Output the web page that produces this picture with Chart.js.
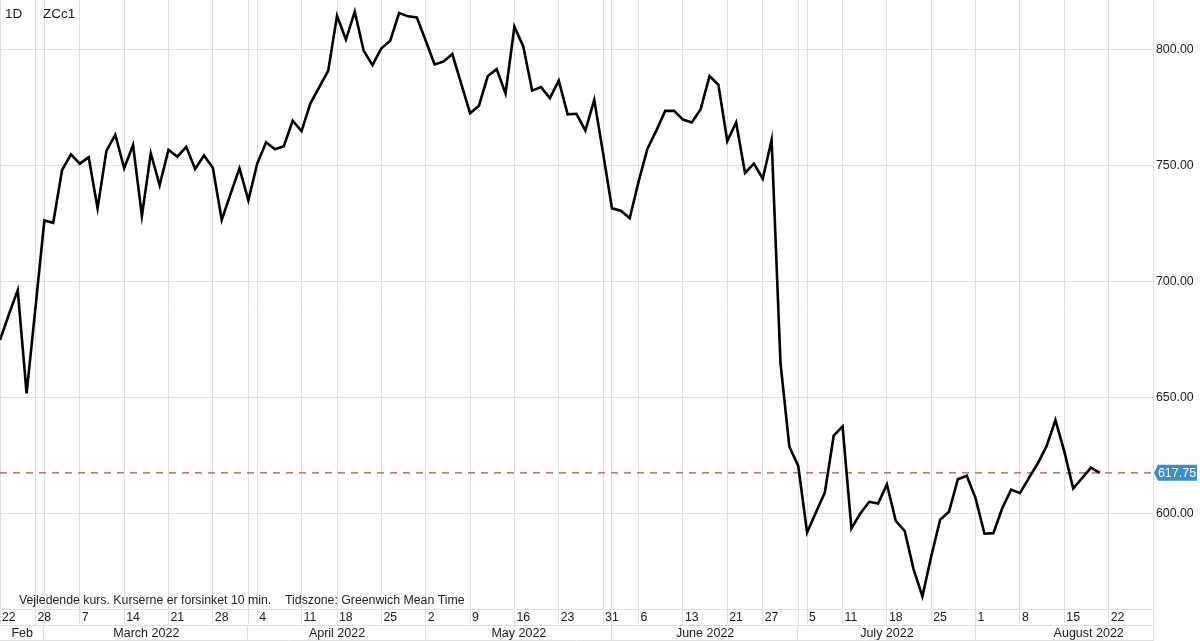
<!DOCTYPE html>
<html>
<head>
<meta charset="utf-8">
<title>ZCc1</title>
<script src="https://cdn.jsdelivr.net/npm/chart.js@4.4.0/dist/chart.umd.min.js"></script>
<style>
  html, body { margin: 0; padding: 0; background: #fff; }
  #wrap { width: 1200px; height: 641px; position: relative; }
</style>
</head>
<body>
<div id="wrap"><canvas id="priceChart"></canvas></div>
<script>
// daily closes, one per trading day from 22 Feb to 19 Aug 2022
var closes = [
  675, 686, 696.5, 652, 689, 726.5, 725.5, 748.25, 755, 751,
  753.75, 731.75, 756.5, 763.5, 749, 759, 728.5, 755.5, 741.75, 757,
  754, 758.25, 748.75, 754.5, 749.25, 726.75, 738, 749, 735.25, 751,
  760.25, 757.25, 758.5, 769.5, 765, 777, 784, 791, 814.75, 804.5,
  816.5, 799.75, 793.5, 800.75, 804, 816, 814.5, 814, 804, 793.75,
  795, 798.25, 785.5, 772.75, 776, 788.75, 791.75, 781.25, 810, 801.5,
  782.5, 784, 779.25, 786.75, 772.25, 772.5, 765.25, 778.5, 755.5, 731.75,
  730.75, 727.5, 743.25, 757.5, 765.25, 773.75, 773.75, 770, 768.75, 774.5,
  788.75, 785, 760.75, 768.75, 747, 751, 744.5, 761.25, 665, 629,
  620.75, 592, 600.75, 609.25, 633.75, 637.75, 593.75, 600.25, 605.25, 604.5,
  612.75, 597, 592.75, 576.25, 564.5, 581.75, 597.5, 601, 615, 616.5,
  606.75, 591.5, 591.75, 602.5, 610.5, 609, 615.5, 621.75, 629.25, 640.5,
  627, 611, 615.5, 620, 617.75
];
var lastPrice = 617.75;
var yTicks = [600, 650, 700, 750, 800];

// trading-day index of each weekly label, and the label text
var dayTickIdx = [0, 4, 9, 14, 19, 24, 29, 34, 38, 43, 48, 53, 58, 63, 68, 72, 77, 82, 86, 91, 95, 100, 105, 110, 115, 120, 125];
var dayTickLabels = ['22', '28', '7', '14', '21', '28', '4', '11', '18', '25', '2', '9', '16', '23', '31', '6', '13', '21', '27', '5', '11', '18', '25', '1', '8', '15', '22'];

// first trading day of each month (0 = left edge of the view)
var monthStartIdx = [0, 5, 28, 48, 69, 90, 110];
var monthLabels = ['Feb', 'March 2022', 'April 2022', 'May 2022', 'June 2022', 'July 2022', 'August 2022'];

var lastIdx = 130; // right edge of the view (29 Aug)
var gridIdx = dayTickIdx.concat(monthStartIdx.slice(1)).sort(function(a, b) { return a - b; });

var FONT = '"Liberation Sans", Arial, sans-serif';
var GRID = '#e0e0e0';

var decor = {
  id: 'decor',
  afterDraw: function(chart) {
    var ctx = chart.ctx;
    var xs = chart.scales.x, ys = chart.scales.y, area = chart.chartArea;
    var H = chart.height;
    ctx.save();

    // row separators under the plot
    ctx.strokeStyle = GRID;
    ctx.lineWidth = 1;
    ctx.beginPath();
    ctx.moveTo(0, area.bottom + 16.5); ctx.lineTo(area.right, area.bottom + 16.5);
    ctx.moveTo(0, H - 0.5); ctx.lineTo(area.right, H - 0.5);
    ctx.moveTo(area.right + 0.5, area.bottom); ctx.lineTo(area.right + 0.5, H);
    monthStartIdx.slice(1).forEach(function(idx) {
      var x = Math.round(xs.getPixelForValue(idx)) - 0.5;
      ctx.moveTo(x, area.bottom + 16); ctx.lineTo(x, H);
    });
    ctx.stroke();

    // day labels
    ctx.fillStyle = '#1a1a1a';
    ctx.font = '12.3px ' + FONT;
    ctx.textAlign = 'left';
    ctx.textBaseline = 'middle';
    dayTickIdx.forEach(function(idx, k) {
      ctx.fillText(dayTickLabels[k], xs.getPixelForValue(idx) + 2, area.bottom + 9);
    });

    // month labels, centred in their span
    ctx.font = '12.5px ' + FONT;
    ctx.textAlign = 'center';
    monthLabels.forEach(function(lbl, k) {
      var a = monthStartIdx[k];
      var b = k + 1 < monthStartIdx.length ? monthStartIdx[k + 1] : lastIdx + 5.5;
      var x = (xs.getPixelForValue(a) + xs.getPixelForValue(b)) / 2;
      ctx.fillText(lbl, x, area.bottom + 25);
    });

    // footer note
    ctx.font = '12.3px ' + FONT;
    ctx.textAlign = 'left';
    ctx.fillStyle = '#222';
    ctx.fillText('Vejledende kurs. Kurserne er forsinket 10 min.', 19, 601);
    ctx.fillText('Tidszone: Greenwich Mean Time', 285, 601);

    // top-left labels
    ctx.font = '13.5px ' + FONT;
    ctx.fillStyle = '#1a1a1a';
    ctx.fillText('1D', 5, 14);
    ctx.fillText('ZCc1', 43, 14);

    // last price tag
    var py = ys.getPixelForValue(lastPrice);
    ctx.fillStyle = '#3a8ed4';
    ctx.beginPath();
    ctx.moveTo(area.right + 1, py);
    ctx.lineTo(area.right + 5, py - 8);
    ctx.lineTo(1197, py - 8);
    ctx.lineTo(1197, py + 8);
    ctx.lineTo(area.right + 5, py + 8);
    ctx.closePath();
    ctx.fill();
    ctx.fillStyle = '#fff';
    ctx.font = '12.5px ' + FONT;
    ctx.textAlign = 'center';
    ctx.fillText(lastPrice.toFixed(2), 1177, py + 0.5);

    ctx.restore();
  }
};

Chart.defaults.font.family = FONT;

var ctx = document.getElementById('priceChart').getContext('2d');
var priceChart = new Chart(ctx, {
  type: 'line',
  data: {
    datasets: [{
      data: closes.map(function(v, i) { return { x: i, y: v }; }),
      borderColor: '#000',
      borderWidth: 2.6,
      pointRadius: 0,
      tension: 0,
      order: 1
    }, {
      data: [{ x: 0, y: lastPrice }, { x: lastIdx, y: lastPrice }],
      borderColor: '#bf4a47',
      borderWidth: 1.2,
      borderDash: [7, 6],
      pointRadius: 0,
      order: 2
    }]
  },
  options: {
    responsive: true,
    maintainAspectRatio: false,
    animation: false,
    layout: { padding: 0 },
    plugins: {
      legend: { display: false },
      tooltip: { enabled: false }
    },
    scales: {
      x: {
        type: 'linear',
        min: 0,
        max: lastIdx,
        afterBuildTicks: function(scale) {
          scale.ticks = gridIdx.map(function(v) { return { value: v }; });
        },
        afterFit: function(scale) {
          scale.height = 32;
          scale.paddingLeft = 0; scale.paddingRight = 0;
        },
        ticks: { display: false },
        grid: { color: GRID, drawTicks: true, tickLength: 16 },
        border: { display: true, color: GRID }
      },
      y: {
        position: 'right',
        min: 559.05,
        max: 821.55,
        afterBuildTicks: function(scale) {
          scale.ticks = yTicks.map(function(v) { return { value: v }; });
        },
        afterFit: function(scale) {
          scale.width = 47;
          scale.paddingTop = 0; scale.paddingBottom = 0;
        },
        ticks: {
          padding: 3,
          color: '#1a1a1a',
          font: { size: 12.3 },
          callback: function(v) { return Number(v).toFixed(2); }
        },
        grid: { color: GRID, drawTicks: false },
        border: { display: true, color: GRID }
      }
    }
  },
  plugins: [decor]
});
</script>
</body>
</html>
